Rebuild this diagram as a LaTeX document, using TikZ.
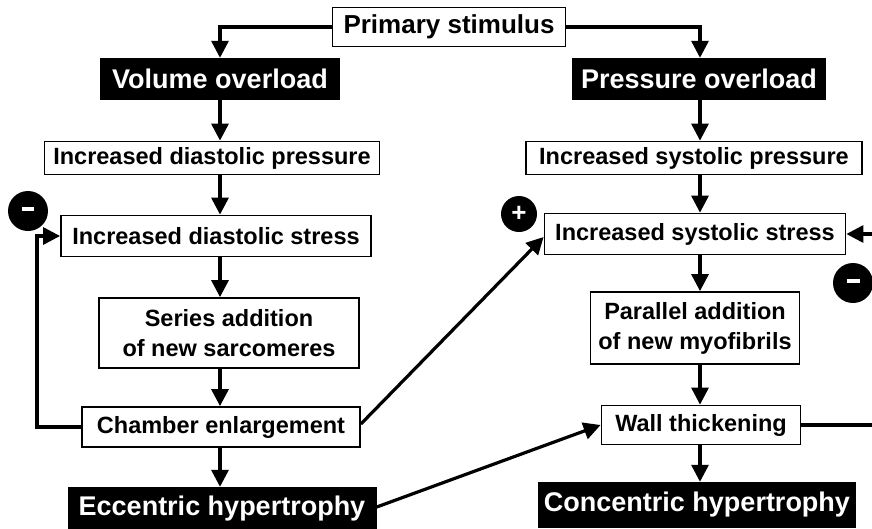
\documentclass[tikz,border=0pt]{standalone}
\usepackage{fontspec}
\setmainfont{Liberation Sans}
\usetikzlibrary{arrows.meta,calc}
\tikzset{
  wbox/.style={draw=black, line width=1.8pt, fill=white, inner sep=0pt, align=center, font=\bfseries\fontsize{23.5}{30}\selectfont},
  bbox/.style={fill=black, text=white, inner sep=0pt, align=center, font=\bfseries\fontsize{27}{30}\selectfont},
  arr/.style={line width=3.2pt, -{Triangle[width=17pt,length=17pt]}},
  sign/.style={circle, fill=black, text=white, minimum size=40pt, inner sep=0pt, font=\bfseries\fontsize{26}{26}\selectfont}
}
\begin{document}
\begin{tikzpicture}[x=1pt,y=-1pt]
\useasboundingbox (0,0) rectangle (872,528);
\clip (0,0) rectangle (872,528);
% nodes
\node[wbox, minimum width=233pt, minimum height=39pt, font=\bfseries\fontsize{26}{30}\selectfont] (prim) at (449,27) {Primary stimulus};
\node[bbox, minimum width=240pt, minimum height=42pt] (vol) at (220,79) {Volume overload};
\node[bbox, minimum width=254pt, minimum height=42pt] (pres) at (699,79) {Pressure overload};
\node[wbox, minimum width=335pt, minimum height=33pt] (dp) at (212,158) {Increased diastolic pressure};
\node[wbox, minimum width=336pt, minimum height=33pt] (sp) at (694,158) {Increased systolic pressure};
\node[wbox, minimum width=310pt, minimum height=41pt] (ds) at (216,236) {Increased diastolic stress};
\node[wbox, minimum width=301pt, minimum height=41pt] (ss) at (695,234) {Increased systolic stress};
\node[wbox, minimum width=260pt, minimum height=70pt] (ser) at (229,333) {Series addition\\of new sarcomeres};
\node[wbox, minimum width=209pt, minimum height=72pt] (par) at (695,328) {Parallel addition\\of new myofibrils};
\node[wbox, minimum width=278pt, minimum height=40pt] (ch) at (221,427) {Chamber enlargement};
\node[wbox, minimum width=199pt, minimum height=39pt] (wall) at (701,425) {Wall thickening};
\node[bbox, minimum width=309pt, minimum height=44pt] (ecc) at (222,509) {Eccentric hypertrophy};
\node[bbox, minimum width=318pt, minimum height=46pt] (conc) at (697,505) {Concentric hypertrophy};
\node[sign] (m1) at (28,211) {\rule[0.3ex]{13pt}{4pt}};
\node[sign, minimum size=36pt] (p1) at (519,214) {+};
\node[sign] (m2) at (853,283) {\rule[0.3ex]{13pt}{4pt}};
% columns
\coordinate (cl) at (220,0);
\coordinate (cr) at (700,0);
% connectors
\draw[arr] (prim.west) -| (vol.north -| cl);
\draw[arr] (prim.east) -| (pres.north -| cr);
\draw[arr] (vol.south -| cl) -- (dp.north -| cl);
\draw[arr] (pres.south -| cr) -- (sp.north -| cr);
\draw[arr] (dp.south -| cl) -- (ds.north -| cl);
\draw[arr] (sp.south -| cr) -- (ss.north -| cr);
\draw[arr] (ds.south -| cl) -- (ser.north -| cl);
\draw[arr] (ss.south -| cr) -- (par.north -| cr);
\draw[arr] (ser.south -| cl) -- (ch.north -| cl);
\draw[arr] (par.south -| cr) -- (wall.north -| cr);
\draw[arr] (ch.south -| cl) -- (ecc.north -| cl);
\draw[arr] (wall.south -| cr) -- (conc.north -| cr);
\coordinate (lfb) at (37,427);
\draw[arr] (ch.west) -- (lfb) |- (ds.west);
\draw[arr] ($(ch.east)+(0,-3)$) -- ($(ss.west)+(0,3)$);
\draw[arr] ($(ecc.east)+(0,-2)$) -- (wall.west);
\coordinate (rfb) at (884,425);
\draw[arr] (wall.east) -- (rfb) |- (ss.east);
\end{tikzpicture}
\end{document}
